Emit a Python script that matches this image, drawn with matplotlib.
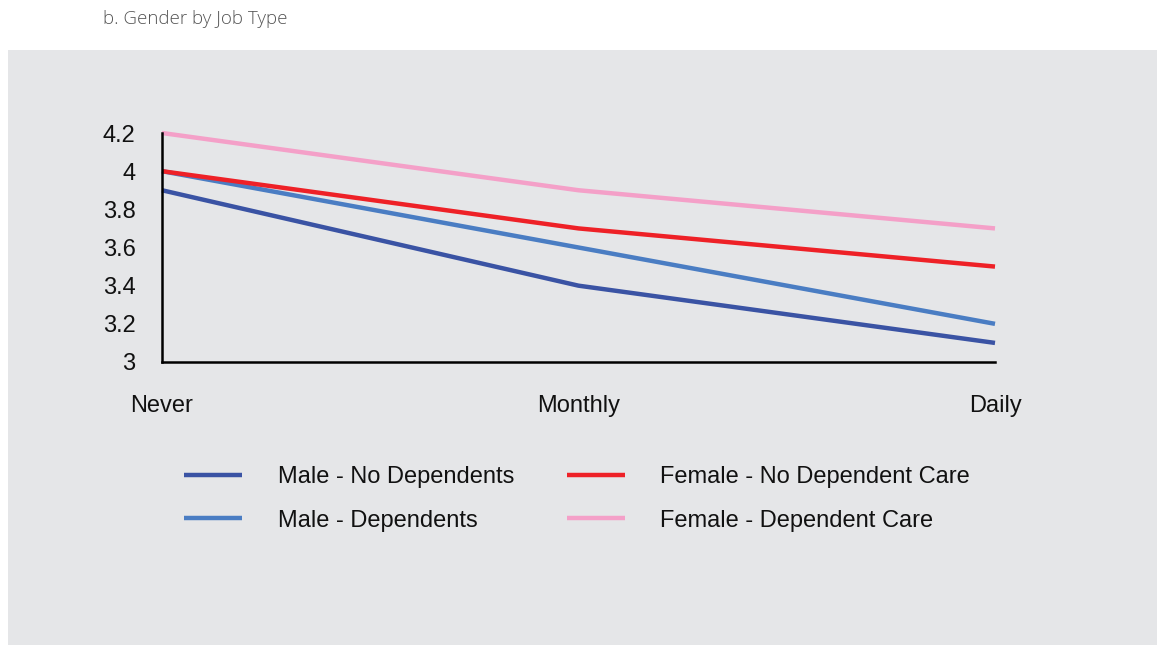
import matplotlib
matplotlib.use("Agg")
import matplotlib.pyplot as plt
from matplotlib.patches import Rectangle

categories = ["Never", "Monthly", "Daily"]
series_names = ["Male - No Dependents", "Male - Dependents",
                "Female - No Dependent Care", "Female - Dependent Care"]
male_no_dep = [3.9, 3.4, 3.1]
male_dep = [4.0, 3.6, 3.2]
female_no_dep = [4.0, 3.7, 3.5]
female_dep = [4.2, 3.9, 3.7]
y_ticks = [3, 3.2, 3.4, 3.6, 3.8, 4, 4.2]
y_tick_labels = ["3", "3.2", "3.4", "3.6", "3.8", "4", "4.2"]

colors = ["#3a53a4", "#4a7dc3", "#ee2127", "#f4a0c8"]
values = [male_no_dep, male_dep, female_no_dep, female_dep]

W, H = 1157, 647
fig = plt.figure(figsize=(W / 100, H / 100), dpi=100)
fig.patch.set_facecolor("white")

# grey panel
panel = Rectangle((8 / W, 2 / H), (W - 8) / W, (597 - 2) / H,
                  transform=fig.transFigure, facecolor="#e5e6e8",
                  edgecolor="none", zorder=-10)
fig.patches.append(panel)

fig.text(103 / W, 1 - 19 / H, "b. Gender by Job Type", fontsize=13.5,
         family="Open Sans", color="#555555", va="center", ha="left",
         fontweight="light")

ax = fig.add_axes([162 / W, 1 - 362 / H, 833 / W, 229 / H])
ax.set_zorder(5)
ax.set_facecolor("none")
x = list(range(len(categories)))
lines = []
for name, vals, c in zip(series_names, values, colors):
    ln, = ax.plot(x, vals, color=c, lw=3.2, label=name, clip_on=False,
                  solid_capstyle="butt")
    lines.append(ln)

ax.set_xlim(0, len(categories) - 1)
ax.set_ylim(3, 4.2)
ax.set_yticks(y_ticks)
ax.set_yticklabels(y_tick_labels)
ax.set_xticks(x)
ax.set_xticklabels(categories)
for s in ["top", "right"]:
    ax.spines[s].set_visible(False)
for s in ["left", "bottom"]:
    ax.spines[s].set_linewidth(1.8)
    ax.spines[s].set_color("black")
ax.tick_params(axis="both", length=0, labelsize=17, labelcolor="#111111")
ax.tick_params(axis="y", pad=19)
ax.tick_params(axis="x", pad=24)
for t in ax.get_xticklabels() + ax.get_yticklabels():
    t.set_family("Liberation Sans")

leg = fig.legend(handles=lines, labels=series_names, ncol=2,
                 loc="upper left", bbox_to_anchor=(163 / W, 1 - 445 / H),
                 frameon=False, prop={"family": "Liberation Sans", "size": 17},
                 handlelength=2.45, handletextpad=1.5, columnspacing=2.25,
                 labelspacing=0.9)
leg.set_zorder(6)
for t in leg.get_texts():
    t.set_color("#111111")

fig.savefig("out.png", dpi=100)
